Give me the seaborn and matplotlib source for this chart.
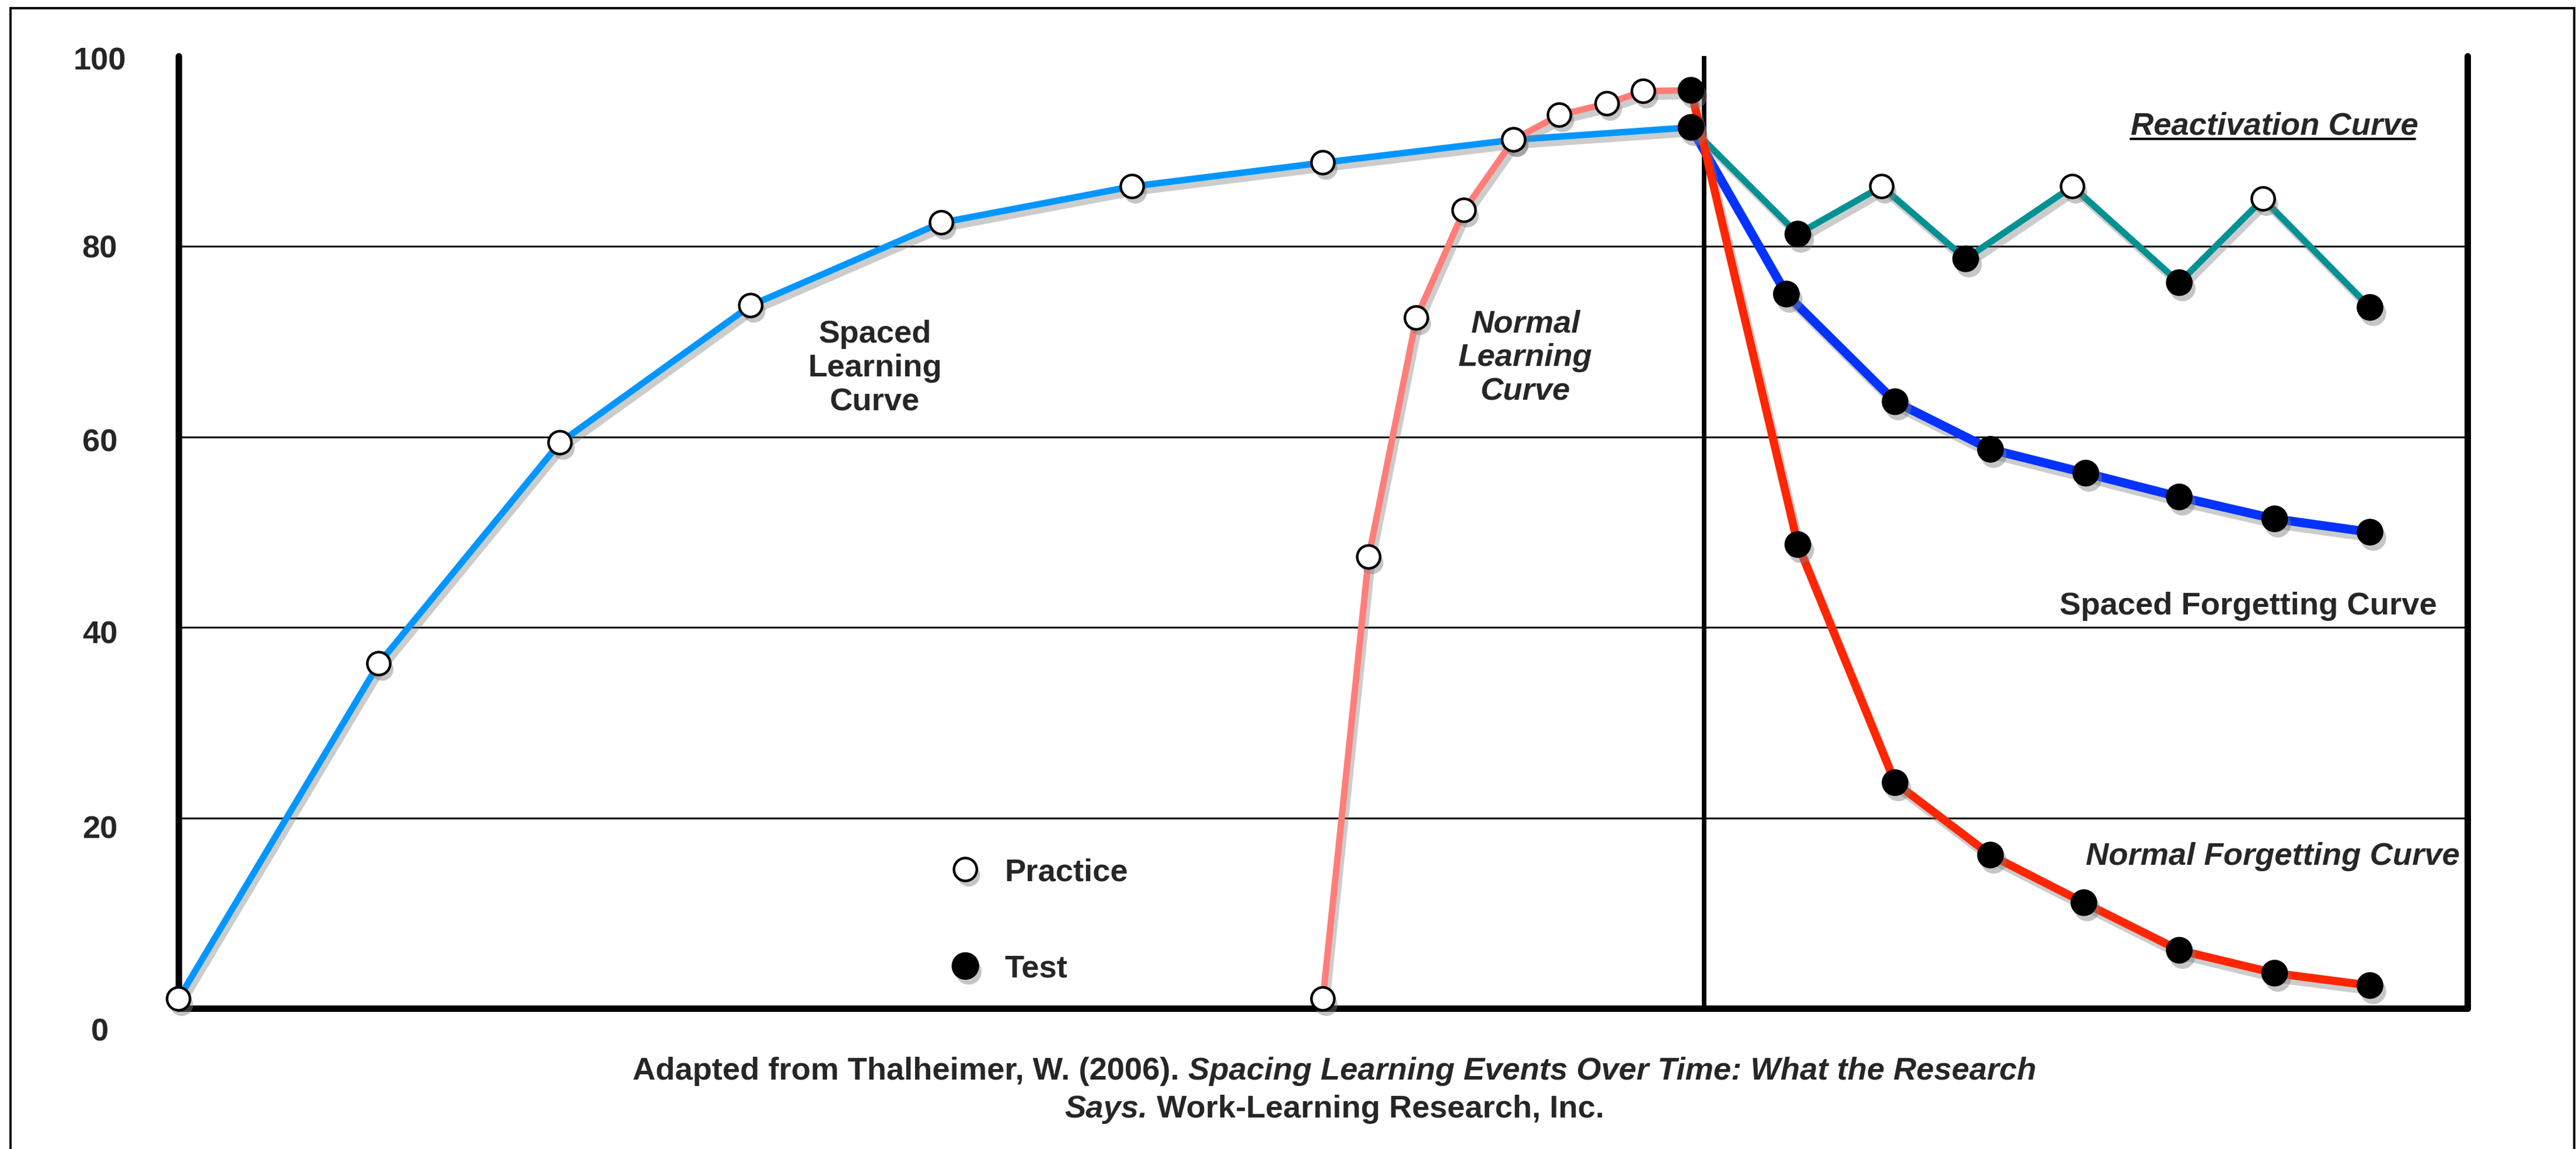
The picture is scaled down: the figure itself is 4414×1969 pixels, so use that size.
import matplotlib

matplotlib.use("Agg")

import matplotlib.patheffects as pe
import matplotlib.pyplot as plt
import pandas as pd
import seaborn as sns
from matplotlib.lines import Line2D
from matplotlib.patches import Rectangle
from matplotlib.transforms import IdentityTransform, ScaledTranslation

# ---- data (x = time step, y = retention %) ----
spaced_learn_x = [0, 1.05, 2, 3, 4, 5, 6, 7, 7.93]
spaced_learn_y = [1, 36.2, 59.4, 73.8, 82.5, 86.3, 88.8, 91.2, 92.5]
spaced_learn_kind = ["Practice"] * 8 + ["Test"]

normal_learn_x = [6, 6.24, 6.49, 6.74, 7, 7.24, 7.49, 7.68, 7.93]
normal_learn_y = [1, 47.4, 72.5, 83.8, 91.2, 93.8, 95.0, 96.3, 96.4]
normal_learn_kind = ["Practice"] * 8 + ["Test"]

react_x = [7.93, 8.49, 8.93, 9.37, 9.93, 10.49, 10.93, 11.49]
react_y = [92.5, 81.3, 86.3, 78.7, 86.3, 76.2, 85.0, 73.6]
react_kind = ["Test", "Test", "Practice", "Test", "Practice", "Test", "Practice", "Test"]

spaced_forget_x = [7.93, 8.43, 9.0, 9.5, 10.0, 10.49, 10.99, 11.49]
spaced_forget_y = [92.5, 75.0, 63.7, 58.7, 56.2, 53.7, 51.4, 50.0]
spaced_forget_kind = ["Test"] * 8

normal_forget_x = [7.93, 8.49, 9.0, 9.5, 9.99, 10.49, 10.99, 11.49]
normal_forget_y = [96.4, 48.7, 23.7, 16.1, 11.1, 6.1, 3.7, 2.4]
normal_forget_kind = ["Test"] * 8

y_ticks = [0, 20, 40, 60, 80, 100]
grid_levels = [20, 40, 60, 80]
divider_x = 8

curves = [
    ("Spaced learning", spaced_learn_x, spaced_learn_y, spaced_learn_kind, "#0096FF", 4.0),
    ("Normal learning", normal_learn_x, normal_learn_y, normal_learn_kind, "#FF7E79", 4.0),
    ("Reactivation", react_x, react_y, react_kind, "#009193", 4.0),
    ("Spaced forgetting", spaced_forget_x, spaced_forget_y, spaced_forget_kind, "#0433FF", 5.5),
    ("Normal forgetting", normal_forget_x, normal_forget_y, normal_forget_kind, "#FF2600", 5.0),
]

frames = []
for name, xs, ys, kinds, _, _ in curves:
    frames.append(pd.DataFrame({"curve": name, "x": xs, "y": ys, "kind": kinds}))
points = pd.concat(frames, ignore_index=True)

sns.set_theme(style="white")
plt.rcParams["font.family"] = ["Liberation Sans", "DejaVu Sans"]
plt.rcParams["font.weight"] = "bold"

DPI = 200
FS = 19.6
fig = plt.figure(figsize=(4414 / DPI, 1969 / DPI), dpi=DPI)
ax = fig.add_axes([0.0693, 0.1224, 0.8885, 0.8289])

line_shadow = [pe.SimpleLineShadow(offset=(2, -3.5), shadow_color="gray", alpha=0.4), pe.Normal()]
dot_shadow = [pe.SimplePatchShadow(offset=(2, -3.5), shadow_rgbFace="gray", alpha=0.45), pe.Normal()]

for level in grid_levels:
    ax.axhline(level, color="black", lw=1.1, zorder=1)
ax.axvline(divider_x, color="black", lw=2.8, zorder=1.5)

for name, _, _, _, colour, width in curves:
    sns.lineplot(
        data=points[points["curve"] == name],
        x="x",
        y="y",
        estimator=None,
        sort=False,
        color=colour,
        lw=width,
        ax=ax,
        zorder=3,
    )
    line = ax.lines[-1]
    line.set_solid_capstyle("round")
    line.set_path_effects(line_shadow)

practice = points[points["kind"] == "Practice"]
test = points[points["kind"] == "Test"].drop_duplicates(["x", "y"])
sns.scatterplot(data=practice, x="x", y="y", s=200, color="white",
                edgecolor="black", linewidth=1.6, zorder=5, clip_on=False, ax=ax)
ax.collections[-1].set_path_effects(dot_shadow)
sns.scatterplot(data=test, x="x", y="y", s=255, color="black",
                edgecolor="black", linewidth=0.5, zorder=6, clip_on=False, ax=ax)
ax.collections[-1].set_path_effects(dot_shadow)

ax.set_xlim(0, 12)
ax.set_ylim(0, 100)
ax.set_xticks([])
ax.set_yticks(y_ticks)
ax.set_yticklabels([str(v) for v in y_ticks])
ax.set_xlabel("")
ax.set_ylabel("")
ax.tick_params(axis="y", length=0, pad=48.6, labelsize=FS)
ax.spines["top"].set_visible(False)
for side in ["left", "right", "bottom"]:
    ax.spines[side].set_color("black")
    ax.spines[side].set_linewidth(4)
    ax.spines[side].set_capstyle("round")

label_drop_px = {100: 4, 80: 0, 60: 5, 40: 8, 20: 15, 0: 36}
for value, label in zip(y_ticks, ax.get_yticklabels()):
    label.set_horizontalalignment("center")
    label.set_fontweight("bold")
    label.set_transform(label.get_transform()
                        + ScaledTranslation(0, -label_drop_px[value] / DPI, fig.dpi_scale_trans))

# curve names
ax.text(3.65, 67.2, "Spaced\nLearning\nCurve", ha="center", va="center",
        fontsize=FS, fontweight="bold", linespacing=1.2)
ax.text(7.06, 68.3, "Normal\nLearning\nCurve", ha="center", va="center",
        fontsize=FS, fontweight="bold", style="italic", linespacing=1.2)
react_text = ax.text(10.99, 92.6, "Reactivation Curve", ha="center", va="center",
                     fontsize=FS, fontweight="bold", style="italic")
ax.text(10.85, 42.2, "Spaced Forgetting Curve", ha="center", va="center",
        fontsize=FS, fontweight="bold")
ax.text(10.98, 15.9, "Normal Forgetting Curve", ha="center", va="center",
        fontsize=FS, fontweight="bold", style="italic")

# legend
handles = [
    Line2D([], [], ls="none", marker="o", ms=14.1, mfc="white", mec="black", mew=1.6,
           path_effects=dot_shadow),
    Line2D([], [], ls="none", marker="o", ms=16, mfc="black", mec="black",
           path_effects=dot_shadow),
]
fig.legend(handles, ["Practice", "Test"], loc="upper left",
           bbox_to_anchor=(0.3686, 0.2534), frameon=False,
           prop={"size": FS, "weight": "bold"}, handlelength=1.0,
           handletextpad=0.74, labelspacing=2.12, borderpad=0, borderaxespad=0)

# outer frame
fig.add_artist(Rectangle((0.0041, -0.02), 0.9952, 1.0129, transform=fig.transFigure,
                         fill=False, edgecolor="black", lw=1.4))

# caption with mixed italic pieces
caption_lines = [
    ([("Adapted from Thalheimer, W. (2006).", "normal"),
      (" Spacing Learning Events Over Time: What the Research", "italic")], 0.0677),
    ([("Says.", "italic"), (" Work-Learning Research, Inc.", "normal")], 0.0345),
]
caption_texts = []
for pieces, y in caption_lines:
    row = [fig.text(0, y, s, fontsize=FS, fontweight="bold", style=st,
                    ha="left", va="center") for s, st in pieces]
    caption_texts.append(row)

fig.canvas.draw()
renderer = fig.canvas.get_renderer()
fig_w = fig.bbox.width
for row in caption_texts:
    widths = [t.get_window_extent(renderer).width for t in row]
    x = 0.518 * fig_w - sum(widths) / 2
    for t, w in zip(row, widths):
        t.set_x(x / fig_w)
        x += w

bb = react_text.get_window_extent(renderer)
fig.add_artist(Line2D([bb.x0, bb.x1 - 6], [bb.y0 + 4, bb.y0 + 4],
                      transform=IdentityTransform(), color="black", lw=1.5))

fig.savefig("out.png", dpi=DPI)
